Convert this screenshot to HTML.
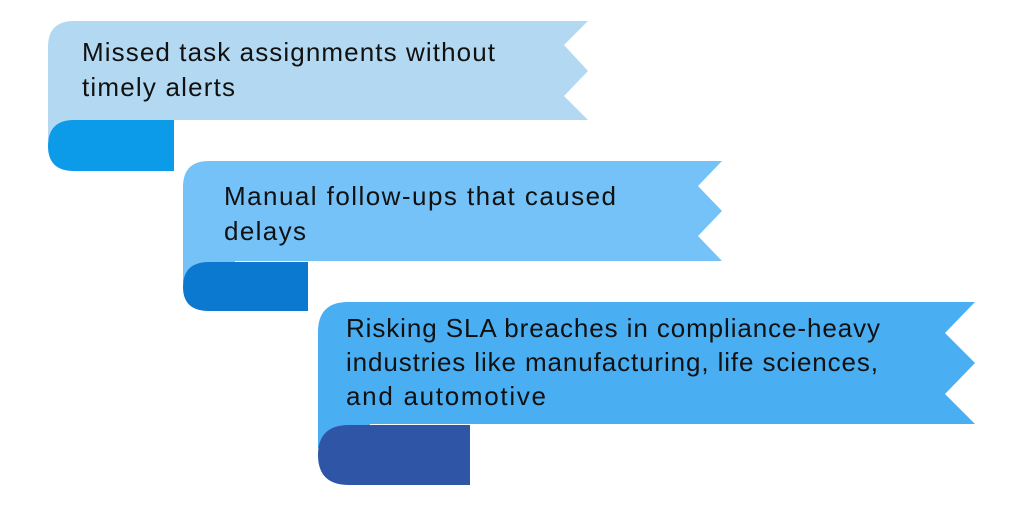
<!DOCTYPE html>
<html><head><meta charset="utf-8"><style>
html,body{margin:0;padding:0;background:#fff;}
svg{display:block;}
text{font-family:"Liberation Sans",sans-serif;font-size:26px;fill:#111;}
</style></head><body>
<svg width="1024" height="509" viewBox="0 0 1024 509" xmlns="http://www.w3.org/2000/svg">
<path d="M48 140 V47 Q48 21 74 21 H588 L564 45 L588 71 L564 96 L588 120 H100 V140 Z" fill="#b3d9f2"/>
<path d="M174 120 V171 H74 Q48 171 48 146 Q48 120 74 120 Z" fill="#0b9be9"/>
<text x="82" y="61" textLength="413" lengthAdjust="spacing">Missed task assignments without</text>
<text x="82" y="96" textLength="153" lengthAdjust="spacing">timely alerts</text>
<path d="M183 282 V187 Q183 161 209 161 H722 L698 186 L722 211 L698 236 L722 261 H235 V282 Z" fill="#74c2f8"/>
<path d="M308 262 V311 H209 Q183 311 183 287 Q183 262 209 262 Z" fill="#0b79cf"/>
<text x="224" y="205" textLength="392" lengthAdjust="spacing">Manual follow-ups that caused</text>
<text x="224" y="240" textLength="82" lengthAdjust="spacing">delays</text>
<path d="M318 448 V332 Q318 302 348 302 H975 L945 333 L975 363 L945 394 L975 424 H370 V448 Z" fill="#4aaef2"/>
<path d="M470 425 V485 H349 Q318 485 318 455 Q318 425 349 425 Z" fill="#2f56a6"/>
<text x="346" y="337" textLength="534" lengthAdjust="spacing">Risking SLA breaches in compliance-heavy</text>
<text x="346" y="371" textLength="532" lengthAdjust="spacing">industries like manufacturing, life sciences,</text>
<text x="346" y="405" textLength="200" lengthAdjust="spacing">and automotive</text>
</svg>
</body></html>
